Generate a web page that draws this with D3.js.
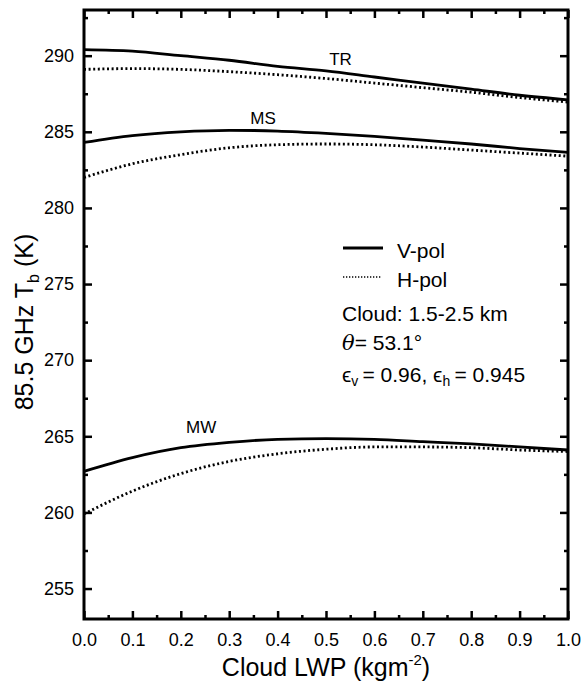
<!DOCTYPE html>
<html><head><meta charset="utf-8">
<script src="https://cdn.jsdelivr.net/npm/d3@7"></script>
<style>body{margin:0;background:#fff;} svg{display:block;}</style>
</head><body>
<svg id="c" width="582" height="683"></svg>
<script>
const lwp = [0.0,0.1,0.2,0.3,0.4,0.5,0.6,0.7,0.8,0.9,1.0];
const trV = [290.4,290.3,290.0,289.7,289.3,289.0,288.6,288.2,287.8,287.4,287.1];
const trH = [289.1,289.15,289.1,288.95,288.75,288.5,288.2,287.9,287.6,287.25,286.95];
const msV = [284.3,284.75,285.0,285.1,285.05,284.9,284.7,284.45,284.2,283.9,283.65];
const msH = [282.0,282.9,283.5,283.95,284.15,284.2,284.15,284.0,283.8,283.6,283.4];
const mwV = [262.7,263.6,264.25,264.6,264.8,264.85,264.8,264.65,264.5,264.3,264.1];
const mwH = [259.9,261.4,262.55,263.35,263.85,264.15,264.3,264.3,264.25,264.1,264.0];
const xTicks = [0,0.1,0.2,0.3,0.4,0.5,0.6,0.7,0.8,0.9,1.0];
const yTicks = [255,260,265,270,275,280,285,290];
const curveLabels = [{t:"TR",x:0.53,y:289.4},{t:"MS",x:0.37,y:285.5},{t:"MW",x:0.242,y:265.2}];

const svg = d3.select("#c");
const L=84, R=568, T=10, B=619;
const x = d3.scaleLinear().domain([0,1]).range([L,R]);
const y = d3.scaleLinear().domain([253,293]).range([B,T]);
const font = "Liberation Sans, Arial, sans-serif";

const xMinor = d3.range(0.05,1.0,0.1);
const yMinor = d3.range(252.5,293,5).filter(v=>v>=253&&v<=293);

function styleAxis(g){ g.select(".domain").remove(); g.selectAll("line").attr("stroke","#000").attr("stroke-width",2.5); }

// left
svg.append("g").attr("transform",`translate(${L},0)`)
  .call(d3.axisLeft(y).tickValues(yTicks).tickSize(-8).tickPadding(10).tickFormat(d3.format("d")))
  .call(styleAxis).call(g=>g.selectAll("text").attr("font-family",font).attr("font-size",18).attr("fill","#000"));
svg.append("g").attr("transform",`translate(${L},0)`)
  .call(d3.axisLeft(y).tickValues(yMinor).tickSize(-4).tickFormat("")).call(styleAxis);
// right
svg.append("g").attr("transform",`translate(${R},0)`)
  .call(d3.axisRight(y).tickValues(yTicks).tickSize(-8).tickFormat("")).call(styleAxis);
svg.append("g").attr("transform",`translate(${R},0)`)
  .call(d3.axisRight(y).tickValues(yMinor).tickSize(-4).tickFormat("")).call(styleAxis);
// bottom
svg.append("g").attr("transform",`translate(0,${B})`)
  .call(d3.axisBottom(x).tickValues(xTicks).tickSize(-8).tickPadding(14).tickFormat(d3.format(".1f")))
  .call(styleAxis).call(g=>g.selectAll("text").attr("font-family",font).attr("font-size",18).attr("fill","#000"));
svg.append("g").attr("transform",`translate(0,${B})`)
  .call(d3.axisBottom(x).tickValues(xMinor).tickSize(-4).tickFormat("")).call(styleAxis);
// top
svg.append("g").attr("transform",`translate(0,${T})`)
  .call(d3.axisTop(x).tickValues(xTicks).tickSize(-8).tickFormat("")).call(styleAxis);
svg.append("g").attr("transform",`translate(0,${T})`)
  .call(d3.axisTop(x).tickValues(xMinor).tickSize(-4).tickFormat("")).call(styleAxis);

// frame
svg.append("rect").attr("x",L).attr("y",T).attr("width",R-L).attr("height",B-T)
  .attr("fill","none").attr("stroke","#000").attr("stroke-width",3);

const line = d3.line().x((d,i)=>x(lwp[i])).y(d=>y(d)).curve(d3.curveMonotoneX);
[trV,msV,mwV].forEach(s=>{
  svg.append("path").attr("d",line(s)).attr("fill","none").attr("stroke","#000").attr("stroke-width",2.8);
});
[trH,msH,mwH].forEach(s=>{
  svg.append("path").attr("d",line(s)).attr("fill","none").attr("stroke","#000").attr("stroke-width",2.8).attr("stroke-dasharray","2,2.6");
});

curveLabels.forEach(c=>{
  svg.append("text").attr("x",x(c.x)).attr("y",y(c.y)).attr("text-anchor","middle")
    .attr("font-family",font).attr("font-size",17).text(c.t);
});

// legend
svg.append("line").attr("x1",343).attr("x2",383).attr("y1",248).attr("y2",248).attr("stroke","#000").attr("stroke-width",2.8);
svg.append("line").attr("x1",343).attr("x2",381).attr("y1",277).attr("y2",277).attr("stroke","#000").attr("stroke-width",1.5).attr("stroke-dasharray","1.3,1.7");
const lt = (tx,ty)=>svg.append("text").attr("x",tx).attr("y",ty).attr("font-family",font).attr("font-size",21).attr("fill","#000");
lt(397,258).text("V-pol");
lt(397,287).text("H-pol");
lt(342,321).text("Cloud: 1.5-2.5 km");
const th = lt(342,350);
th.append("tspan").attr("font-family","DejaVu Serif, serif").attr("font-style","italic").text("θ");
th.append("tspan").text("= 53.1°");
const ep = lt(342,382);
ep.append("tspan").text("ϵ");
ep.append("tspan").attr("font-size",14).attr("dy",4).text("v");
ep.append("tspan").attr("dy",-4).text("\u2009= 0.96, ϵ");
ep.append("tspan").attr("font-size",14).attr("dy",4).text("h");
ep.append("tspan").attr("dy",-4).text("\u2009= 0.945");

// axis titles
const xt = svg.append("text").attr("x",326).attr("y",676).attr("text-anchor","middle")
  .attr("font-family",font).attr("font-size",25);
xt.append("tspan").text("Cloud LWP (kgm");
xt.append("tspan").attr("font-size",15).attr("dy",-11).text("-2");
xt.append("tspan").attr("dy",11).text(")");

const yt = svg.append("text").attr("transform","translate(33,322) rotate(-90)").attr("text-anchor","middle")
  .attr("font-family",font).attr("font-size",25);
yt.append("tspan").text("85.5 GHz T");
yt.append("tspan").attr("font-size",16).attr("dy",6).text("b");
yt.append("tspan").attr("dy",-6).text(" (K)");
</script>
</body></html>
